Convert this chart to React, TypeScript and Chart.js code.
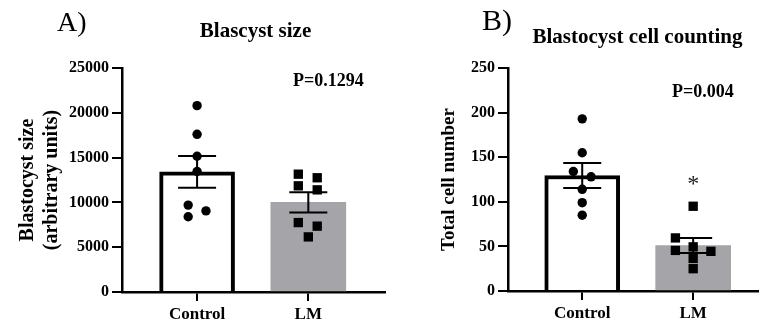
import React, { useEffect, useRef } from 'react';
import { Chart, registerables } from 'chart.js';

Chart.register(...registerables);

// ---------- data ----------
const groups = ['Control', 'LM'];

// Panel A: Blastocyst size (arbitrary units)
const sizeControl = [20800, 17600, 15150, 13450, 9700, 8400, 9050];
const sizeLM = [13150, 12750, 11850, 11400, 7750, 7350, 6150];
const sizeMean = [13400, 10000];
const sizeSem = [1770, 1120];
const sizeControlJitter = [0, 0, 0, 0, -0.08, -0.08, 0.08];
const sizeLMJitter = [-0.09, 0.08, -0.09, 0.08, -0.09, 0.08, 0];

// Panel B: Total cell number
const cellsControl = [193, 155, 134, 128, 114, 99, 85];
const cellsLM = [95, 59.5, 45.5, 49.5, 44.5, 36.5, 25];
const cellsMean = [129.5, 51];
const cellsSem = [14, 8.4];
const cellsControlJitter = [0, 0, -0.08, 0.08, 0, 0, 0];
const cellsLMJitter = [0, -0.16, -0.16, 0, 0.16, 0, 0];

const FONT = "'Liberation Serif', 'Times New Roman', serif";

type TextItem = {
  text: string;
  x: number;
  y: number;
  size: number;
  bold?: boolean;
  align?: CanvasTextAlign;
};

type PanelProps = {
  left: number;
  width: number;
  axisWidth: number;
  bottomHeight: number;
  yMax: number;
  yStep: number;
  xMin: number;
  xMax: number;
  yTitle: string[];
  yTitleSize: number;
  yTitlePad: number;
  control: number[];
  lm: number[];
  controlJitter: number[];
  lmJitter: number[];
  means: number[];
  sems: number[];
  texts: TextItem[];
  star?: number;
};

function Panel(p: PanelProps) {
  const ref = useRef<HTMLCanvasElement | null>(null);

  useEffect(() => {
    document.body.style.margin = '0';
    const canvas = ref.current;
    if (!canvas) return;

    const errorBars = {
      id: 'errorBars',
      afterDatasetDraw(chart: any, args: any) {
        if (args.index !== 0) return;
        const { ctx, scales } = chart;
        ctx.save();
        ctx.strokeStyle = '#000';
        ctx.lineWidth = 2;
        p.means.forEach((m, i) => {
          const x = scales.x.getPixelForValue(i + 1);
          const yt = scales.y.getPixelForValue(m + p.sems[i]);
          const yb = scales.y.getPixelForValue(m - p.sems[i]);
          ctx.beginPath();
          ctx.moveTo(x, yt);
          ctx.lineTo(x, yb);
          ctx.moveTo(x - 19, yt);
          ctx.lineTo(x + 19, yt);
          ctx.moveTo(x - 19, yb);
          ctx.lineTo(x + 19, yb);
          ctx.stroke();
        });
        ctx.restore();
      },
    };

    const annotations = {
      id: 'annotations',
      afterDraw(chart: any) {
        const { ctx, scales } = chart;
        ctx.save();
        ctx.fillStyle = '#000';
        ctx.textBaseline = 'middle';
        p.texts.forEach((t) => {
          ctx.font = `${t.bold ? 'bold ' : ''}${t.size}px ${FONT}`;
          ctx.textAlign = t.align || 'left';
          ctx.fillText(t.text, t.x, t.y);
        });
        if (p.star !== undefined) {
          ctx.font = `24px ${FONT}`;
          ctx.fillStyle = '#222';
          ctx.textAlign = 'center';
          ctx.textBaseline = 'alphabetic';
          ctx.fillText('*', scales.x.getPixelForValue(2), scales.y.getPixelForValue(p.star));
        }
        ctx.restore();
      },
    };

    const chart = new Chart(canvas, {
      type: 'bar',
      data: {
        datasets: [
          {
            type: 'bar',
            order: 2,
            data: p.means.map((m, i) => ({ x: i + 1, y: m })),
            backgroundColor: ['#ffffff', '#a5a5a9'],
            borderColor: ['#000000', 'rgba(0,0,0,0)'],
            borderWidth: [4, 0],
            borderSkipped: 'start',
            barThickness: 75,
          } as any,
          {
            type: 'scatter',
            order: 1,
            data: p.control.map((v, i) => ({ x: 1 + p.controlJitter[i], y: v })),
            pointStyle: 'circle',
            pointRadius: 4.7,
            pointBackgroundColor: '#000',
            pointBorderWidth: 0,
            clip: false,
          } as any,
          {
            type: 'scatter',
            order: 1,
            data: p.lm.map((v, i) => ({ x: 2 + p.lmJitter[i], y: v })),
            pointStyle: 'rect',
            pointRadius: 6.6,
            pointBackgroundColor: '#000',
            pointBorderWidth: 0,
            clip: false,
          } as any,
        ],
      },
      options: {
        responsive: false,
        animation: false,
        layout: { padding: { top: 68, right: 0, bottom: 0, left: 0 } },
        plugins: {
          legend: { display: false },
          tooltip: { enabled: false },
          title: { display: false },
        },
        scales: {
          x: {
            type: 'linear',
            offset: false,
            bounds: 'data',
            min: p.xMin,
            max: p.xMax,
            afterBuildTicks: (s: any) => {
              s.ticks = groups.map((_, i) => ({ value: i + 1 }));
            },
            afterFit: (s: any) => {
              s.height = p.bottomHeight;
            },
            grid: {
              display: true,
              offset: false,
              drawOnChartArea: false,
              drawTicks: true,
              tickLength: 9,
              color: '#000',
              lineWidth: 2,
            },
            border: { display: true, color: '#000', width: 2.5 },
            ticks: {
              color: '#000',
              padding: 3,
              autoSkip: false,
              maxRotation: 0,
              font: { family: FONT, size: 17, weight: 'bold' },
              callback: (v: any) => groups[Math.round(Number(v)) - 1] ?? '',
            },
          } as any,
          y: {
            type: 'linear',
            min: 0,
            max: p.yMax,
            afterFit: (s: any) => {
              s.width = p.axisWidth;
            },
            grid: {
              display: true,
              drawOnChartArea: false,
              drawTicks: true,
              tickLength: 10,
              color: '#000',
              lineWidth: 2,
            },
            border: { display: true, color: '#000', width: 2.5 },
            ticks: {
              stepSize: p.yStep,
              color: '#000',
              padding: 3,
              font: { family: FONT, size: 16, weight: 'bold' },
              callback: (v: any) => String(v),
            },
            title: {
              display: true,
              text: p.yTitle,
              color: '#000',
              font: { family: FONT, size: p.yTitleSize, weight: 'bold' },
              padding: { top: p.yTitlePad, bottom: 0 },
            },
          } as any,
        },
      },
      plugins: [errorBars, annotations],
    });

    return () => chart.destroy();
  }, []);

  return (
    <canvas
      ref={ref}
      width={p.width}
      height={325}
      style={{ position: 'absolute', left: p.left, top: 0, width: p.width, height: 325 }}
    />
  );
}

export default function App() {
  return (
    <div style={{ position: 'relative', width: 765, height: 325, background: '#fff', overflow: 'hidden' }}>
      <Panel
        left={0}
        width={392}
        axisWidth={122}
        bottomHeight={33}
        yMax={25000}
        yStep={5000}
        xMin={0.325}
        xMax={2.693}
        yTitle={['Blastocyst size', '(arbitrary units)']}
        yTitleSize={20}
        yTitlePad={16}
        control={sizeControl}
        lm={sizeLM}
        controlJitter={sizeControlJitter}
        lmJitter={sizeLMJitter}
        means={sizeMean}
        sems={sizeSem}
        texts={[
          { text: 'A)', x: 57, y: 24, size: 28 },
          { text: 'Blascyst size', x: 255.5, y: 32, size: 21, bold: true, align: 'center' },
          { text: 'P=0.1294', x: 293, y: 81, size: 18, bold: true },
        ]}
      />
      <Panel
        left={395}
        width={370}
        axisWidth={113}
        bottomHeight={34}
        yMax={250}
        yStep={50}
        xMin={0.331}
        xMax={2.588}
        yTitle={['Total cell number']}
        yTitleSize={19}
        yTitlePad={43}
        control={cellsControl}
        lm={cellsLM}
        controlJitter={cellsControlJitter}
        lmJitter={cellsLMJitter}
        means={cellsMean}
        sems={cellsSem}
        star={112}
        texts={[
          { text: 'B)', x: 87, y: 22, size: 30 },
          { text: 'Blastocyst cell counting', x: 242.5, y: 38, size: 21, bold: true, align: 'center' },
          { text: 'P=0.004', x: 277, y: 92, size: 18, bold: true },
        ]}
      />
    </div>
  );
}
